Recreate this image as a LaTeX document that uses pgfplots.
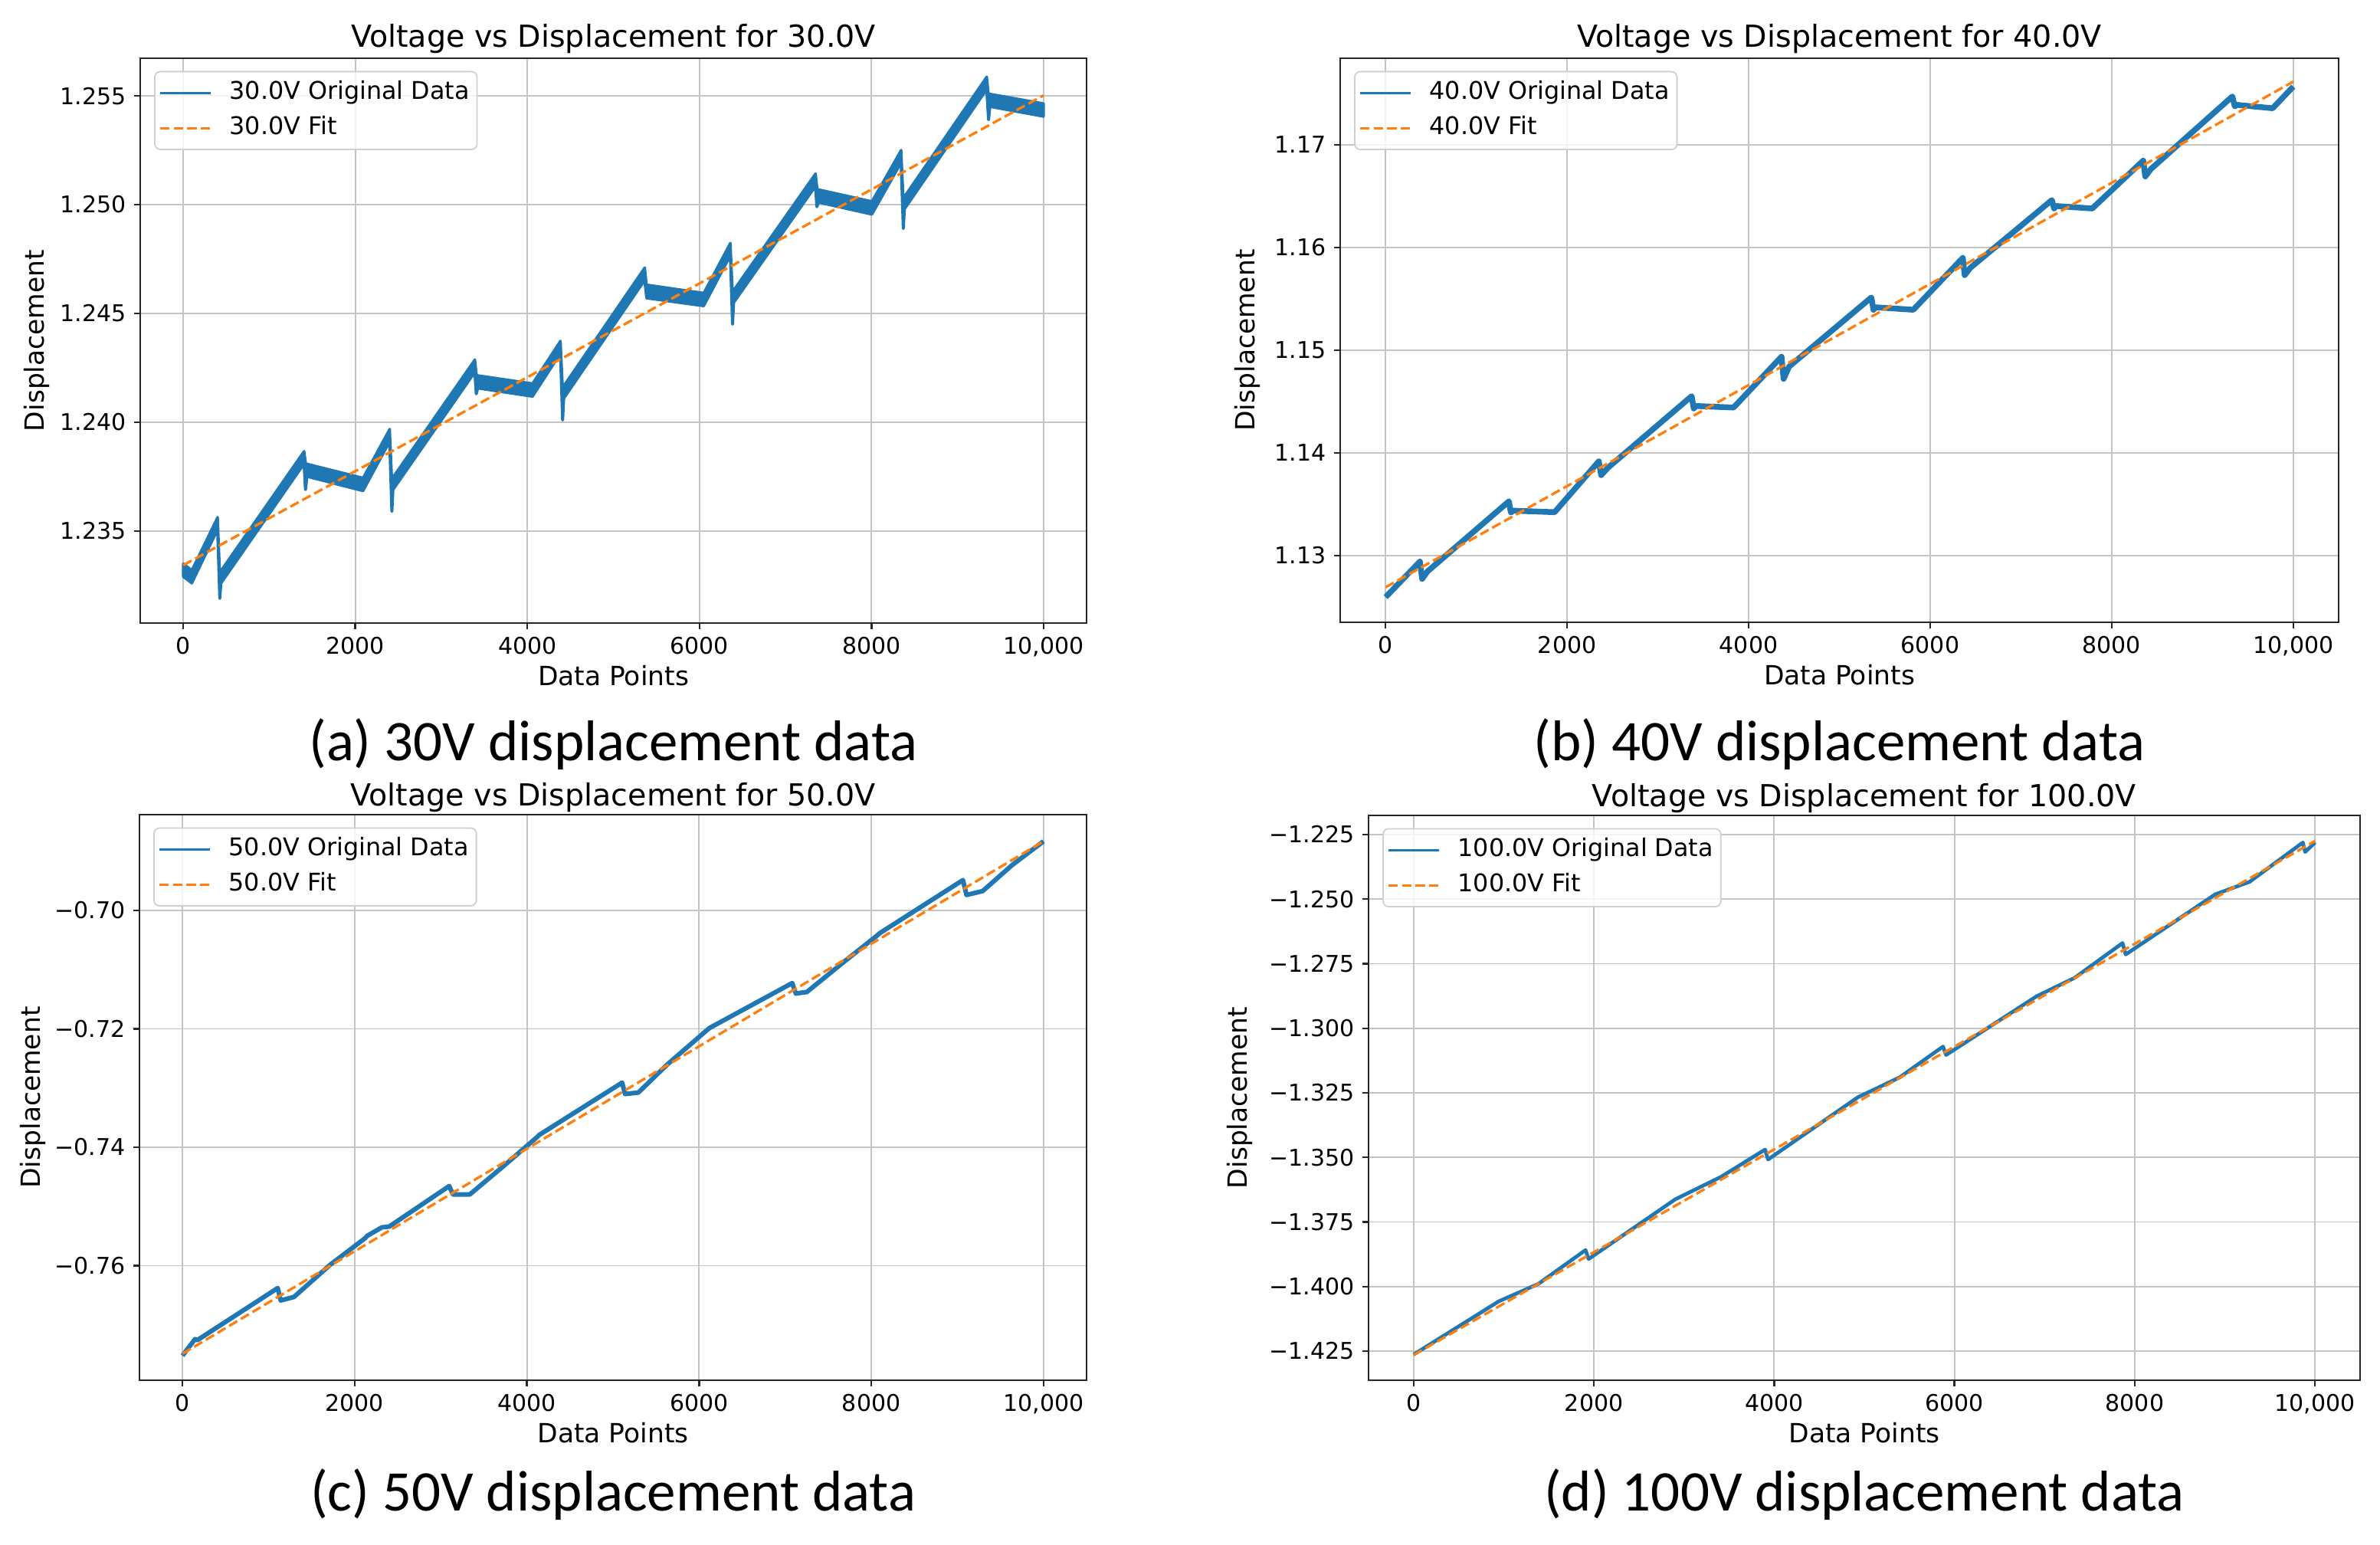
\documentclass[border=0pt]{standalone}
\usepackage{fontspec}
\setmainfont{DejaVu Sans}
\newfontfamily\capfont{Carlito}
\usepackage{pgfplots}
\pgfplotsset{compat=1.18}
\definecolor{c0}{HTML}{1F77B4}
\definecolor{c1}{HTML}{FF7F0E}
\definecolor{gridgray}{HTML}{C4C4C4}
\definecolor{leggray}{HTML}{D0D0D0}
\pgfplotsset{
  panel/.style={
    scale only axis,
    xmin=-500, xmax=10500,
    scaled x ticks=false, scaled y ticks=false,
    axis line style={black!85, line width=0.8bp},
    grid=major,
    major grid style={gridgray, line width=0.6bp},
    tick align=outside,
    major tick length=2.6bp,
    tick style={black!85, line width=0.8bp},
    xtick pos=bottom, ytick pos=left,
    xtick={0,2000,4000,6000,8000,10000},
    xticklabels={0,2000,4000,6000,8000,{10,000}},
    tick label style={font=\fontsize{10bp}{12bp}\selectfont},
    xlabel={Data Points}, ylabel={Displacement},
    every axis x label/.style={at={(axis description cs:0.5,0)}, anchor=base, yshift=-27.3bp, font=\fontsize{11.5bp}{13bp}\selectfont},
    every axis title/.style={at={(axis description cs:0.5,1)}, anchor=base, font=\fontsize{13.2bp}{15bp}\selectfont},
    legend cell align=left,
    legend image code/.code={\draw[##1] (0bp,0bp) -- (22bp,0bp); \path[draw=none,fill=none] (0bp,0bp) -- (28.7bp,0bp);},
    legend style={at={(axis description cs:0,1)}, anchor=north west, xshift=6bp, yshift=-5.5bp,
      draw=leggray, line width=0.6bp, rounded corners=2.5bp, fill=white, fill opacity=0.8, text opacity=1, draw opacity=1,
      font=\fontsize{10.6bp}{12.5bp}\selectfont, inner xsep=1.8bp, inner ysep=2.5bp, row sep=1.8bp,
      nodes={inner sep=1.5bp, text depth=0.25em}},
  },
  ylab/.style={every axis y label/.style={at={([xshift=-#1]axis description cs:0,0.5)}, rotate=90, anchor=base, font=\fontsize{11.5bp}{13bp}\selectfont}},
  titleshift/.style={title style={yshift=#1}},
  data/.style={c0, line width=#1, line join=round},
  fit/.style={c1, line width=1.1bp, dash pattern=on 4.1bp off 1.8bp},
}
\begin{document}
\begin{tikzpicture}
\useasboundingbox (0bp,0bp) rectangle (1035.33bp,-671.67bp);

% (a) 30 V
\begin{axis}[panel, ylab=41.7bp, at={(61bp,-25.33bp)}, anchor=north west,
  width=411.67bp, height=245.67bp,
  ymin=1.23077, ymax=1.25673,
  ytick={1.235,1.240,1.245,1.250,1.255}, yticklabels={1.235,1.240,1.245,1.250,1.255},
  title={Voltage vs Displacement for 30.0V}, titleshift=4.7bp]
\addplot[forget plot, c0, fill=c0, line width=1.1bp, line join=round] coordinates {
(0,1.2335) (100,1.2332) (400,1.23564) (425,1.2331) (1405,1.23867) (1425,1.2381) (2090,1.23744) (2400,1.23969) (2425,1.2374) (3390,1.24288) (3410,1.24216) (4060,1.24178) (4385,1.24374) (4410,1.2416) (5365,1.24711) (5385,1.24632) (6050,1.24594) (6360,1.24824) (6385,1.2460) (7350,1.25143) (7370,1.25071) (8005,1.25015) (8345,1.25251) (8370,1.2503) (9340,1.25588) (9360,1.2551) (10000,1.25465)
(10000,1.25405) (9378,1.2545) (9364,1.2539) (9358,1.2539) (9337,1.25528) (8385,1.2498) (8373,1.2489) (8367,1.2489) (8342,1.25191) (8005,1.24955) (7385,1.2501) (7368,1.2499) (7362,1.2499) (7347,1.25083) (6400,1.2455) (6388,1.2445) (6382,1.2445) (6357,1.24764) (6050,1.24534) (5385,1.2457) (5362,1.24651) (4425,1.2411) (4413,1.2401) (4407,1.2401) (4382,1.24314) (4060,1.24118) (3425,1.24156) (3409,1.2413) (3403,1.2413) (3387,1.24228) (2440,1.2369) (2428,1.2359) (2422,1.2359) (2397,1.23909) (2090,1.23684) (1440,1.2375) (1424,1.2369) (1418,1.2369) (1402,1.23807) (440,1.2326) (428,1.2319) (422,1.2319) (397,1.23504) (100,1.2326) (0,1.2329)
} -- cycle;
\addlegendimage{c0, line width=1.1bp}
\addlegendentry{30.0V Original Data}
\addplot[fit] coordinates {(0,1.23343) (2000,1.23775) (4000,1.24207) (6000,1.24638) (8000,1.25070) (10000,1.25502)};
\addlegendentry{30.0V Fit}
\end{axis}

% (b) 40 V
\begin{axis}[panel, ylab=37.3bp, at={(583bp,-25.33bp)}, anchor=north west,
  width=434.33bp, height=245.33bp,
  ymin=1.12351, ymax=1.17843,
  ytick={1.13,1.14,1.15,1.16,1.17}, yticklabels={1.13,1.14,1.15,1.16,1.17},
  title={Voltage vs Displacement for 40.0V}, titleshift=4.7bp]
\addplot[forget plot, data=2.5bp] coordinates {
(0,1.12596) (378,1.12942) (403,1.12774) (461,1.12846) (1359,1.13529) (1380,1.1342) (1409,1.13438) (1862,1.13423) (2349,1.13918) (2375,1.13784) (2450,1.13856) (3372,1.14553) (3395,1.14433) (3420,1.14457) (3834,1.14442) (4362,1.14937) (4385,1.14721) (4446,1.14841) (5352,1.15514) (5375,1.15394) (5400,1.15418) (5814,1.15394) (6359,1.15899) (6380,1.15731) (6443,1.15803) (7341,1.16462) (7365,1.1638) (7390,1.16404) (7785,1.1638) (8347,1.16846) (8370,1.16692) (8431,1.16764) (9329,1.17471) (9355,1.17375) (9380,1.17389) (9773,1.17356) (10000,1.17567)
};
\addlegendimage{c0, line width=1.1bp}
\addlegendentry{40.0V Original Data}
\addplot[fit] coordinates {(0,1.12692) (2000,1.13677) (4000,1.14661) (6000,1.15646) (8000,1.16630) (10000,1.17615)};
\addlegendentry{40.0V Fit}
\end{axis}

% (c) 50 V
\begin{axis}[panel, ylab=43.3bp, at={(60.67bp,-354.33bp)}, anchor=north west,
  width=412bp, height=246bp,
  ymin=-0.77935, ymax=-0.68382,
  ytick={-0.76,-0.74,-0.72,-0.70}, yticklabels={−0.76,−0.74,−0.72,−0.70},
  title={Voltage vs Displacement for 50.0V}, titleshift=3.7bp]
\addplot[forget plot, data=2bp] coordinates {
(0,-0.7752) (145,-0.7724) (170,-0.7726) (1106,-0.76378) (1140,-0.76588) (1294,-0.76529) (1719,-0.7598) (2119,-0.75538) (2145,-0.75496) (2315,-0.75353) (2400,-0.7534) (3098,-0.74655) (3140,-0.74798) (3336,-0.74798) (3762,-0.74277) (4128,-0.73815) (4145,-0.7379) (5106,-0.72908) (5140,-0.73101) (5294,-0.73076) (5634,-0.72597) (6102,-0.72008) (6128,-0.7198) (7081,-0.71227) (7123,-0.71403) (7251,-0.71378) (7677,-0.70874) (8077,-0.70412) (8102,-0.7038) (9064,-0.69487) (9106,-0.69739) (9294,-0.69672) (9634,-0.69235) (10000,-0.68832)
};
\addlegendimage{c0, line width=1.1bp}
\addlegendentry{50.0V Original Data}
\addplot[fit] coordinates {(0,-0.77487) (2000,-0.75756) (4000,-0.74025) (6000,-0.72294) (8000,-0.70563) (10000,-0.68832)};
\addlegendentry{50.0V Fit}
\end{axis}

% (d) 100 V
\begin{axis}[panel, ylab=53bp, at={(595.33bp,-354.67bp)}, anchor=north west,
  width=431.33bp, height=245.67bp,
  ymin=-1.4363, ymax=-1.2176,
  ytick={-1.425,-1.4,-1.375,-1.35,-1.325,-1.3,-1.275,-1.25,-1.225},
  yticklabels={−1.425,−1.400,−1.375,−1.350,−1.325,−1.300,−1.275,−1.250,−1.225},
  title={Voltage vs Displacement for 100.0V}, titleshift=3.7bp]
\addplot[forget plot, data=1.6bp] coordinates {
(0,-1.42635) (945,-1.40573) (1384,-1.39898) (1907,-1.38589) (1941,-1.38935) (2903,-1.36623) (3409,-1.35756) (3899,-1.34697) (3932,-1.35082) (4928,-1.32673) (5392,-1.31902) (5873,-1.30708) (5907,-1.31035) (6911,-1.28762) (7333,-1.28049) (7865,-1.267) (7899,-1.27143) (8895,-1.24812) (9274,-1.2433) (9865,-1.22808) (9890,-1.23174) (10000,-1.22808)
};
\addlegendimage{c0, line width=1.1bp}
\addlegendentry{100.0V Original Data}
\addplot[fit] coordinates {(0,-1.4265) (2000,-1.3867) (4000,-1.3469) (6000,-1.3071) (8000,-1.2673) (10000,-1.2275)};
\addlegendentry{100.0V Fit}
\end{axis}

\node[font=\capfont\fontsize{25bp}{30bp}\selectfont, anchor=base] at (266.8bp,-330.7bp) {(a) 30V displacement data};
\node[font=\capfont\fontsize{25bp}{30bp}\selectfont, anchor=base] at (800.2bp,-330.7bp) {(b) 40V displacement data};
\node[font=\capfont\fontsize{25bp}{30bp}\selectfont, anchor=base] at (266.7bp,-657.3bp) {(c) 50V displacement data};
\node[font=\capfont\fontsize{25bp}{30bp}\selectfont, anchor=base] at (811bp,-657.3bp) {(d) 100V displacement data};
\end{tikzpicture}
\end{document}
